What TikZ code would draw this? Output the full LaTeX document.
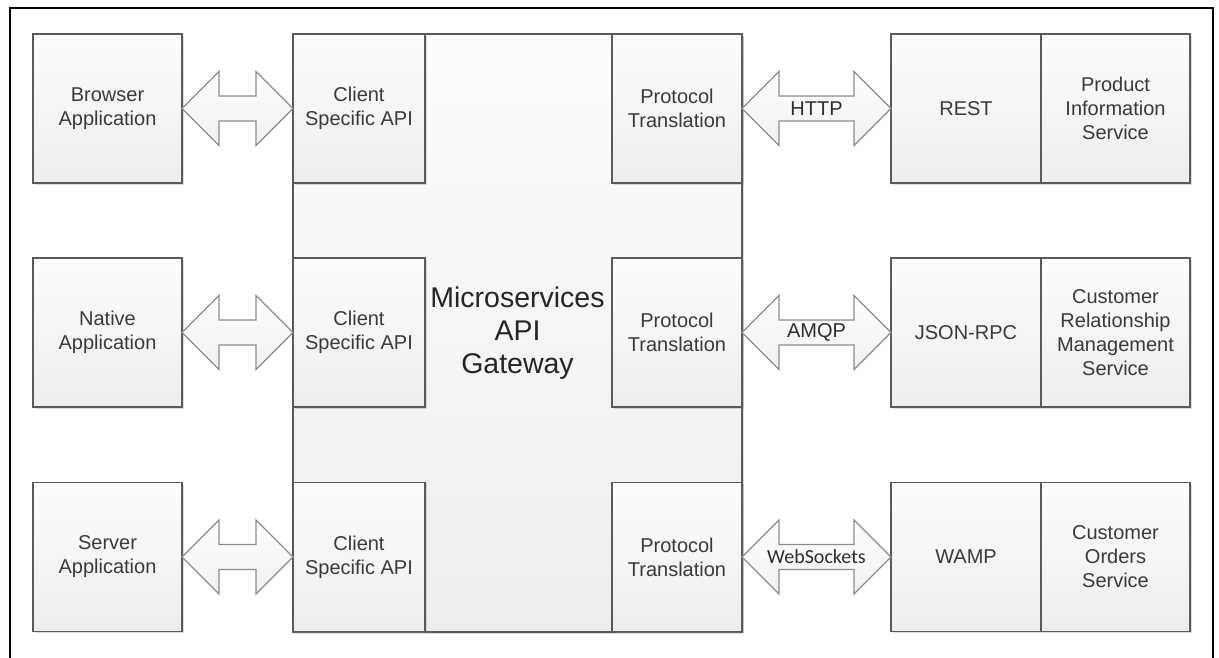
\documentclass[tikz,border=0pt]{standalone}
\usepackage{fontspec}
\setmainfont{Liberation Sans}
\newfontfamily\carlito{Carlito}
\usetikzlibrary{calc,shadows}
\definecolor{txt}{HTML}{3A3A3A}
\definecolor{edgec}{HTML}{5A5A5A}
\definecolor{arredge}{HTML}{8C8C8C}
\tikzset{
  box/.style={draw=edgec, line width=1.3pt, top color=gray!2, bottom color=gray!14,
    inner sep=0pt, outer sep=0pt, align=center, text=txt,
    font=\fontsize{20}{24}\selectfont,
    drop shadow={shadow xshift=1.6pt, shadow yshift=-1.6pt, opacity=0.28, fill=gray}},
  arrowsty/.style={draw=arredge, line width=1.1pt, top color=white, bottom color=gray!12, line join=miter},
  arrlabel/.style={inner sep=0pt, text=txt!80!black, font=\fontsize{20}{24}\selectfont},
  frame/.style={draw=black, line width=2.8pt}
}
\newcommand\dblarrow[4]{%
  \draw[arrowsty] (#1.east) -- ($(#1.east)+(37,-37)$) -- ($(#1.east)+(37,-12.5)$)
    -- ($(#2.west)+(-37,-12.5)$) -- ($(#2.west)+(-37,-37)$) -- (#2.west)
    -- ($(#2.west)+(-37,37)$) -- ($(#2.west)+(-37,12.5)$)
    -- ($(#1.east)+(37,12.5)$) -- ($(#1.east)+(37,37)$) -- cycle;
  \node[arrlabel] (#3) at ($(#1.east)!0.5!(#2.west)$) {#4};
}
\begin{document}
\begin{tikzpicture}[x=1pt,y=-1pt]
\useasboundingbox (0,0) rectangle (1219,657);
\fill[white] (0,0) rectangle (1219,657);
% outer frame (open at the bottom)
\draw[frame] (10,660) -- (10,8) -- (1213,8) -- (1213,660);

% gateway
\node[box, minimum width=449pt, minimum height=598pt,
      font=\fontsize{28.5}{33}\selectfont, text=black!85] (gw) at (517.5,333)
      {Microservices\\API\\Gateway};

% left applications
\node[box, minimum width=149pt, minimum height=149pt] (browser) at (107.5,108.5) {Browser\\Application};
\node[box, minimum width=149pt, minimum height=149pt] (native) at (107.5,332.5) {Native\\Application};
\node[box, minimum width=149pt, minimum height=149pt] (server) at (107.5,557) {Server\\Application};

% client specific APIs
\node[box, minimum width=132pt, minimum height=149pt] (c1) at (359,108.5) {Client\\Specific API};
\node[box, minimum width=132pt, minimum height=149pt] (c2) at (359,332.5) {Client\\Specific API};
\node[box, minimum width=132pt, minimum height=149pt] (c3) at (359,557) {Client\\Specific API};

% protocol translation
\node[box, minimum width=130pt, minimum height=149pt] (p1) at (677,108.5) {Protocol\\Translation};
\node[box, minimum width=130pt, minimum height=149pt] (p2) at (677,332.5) {Protocol\\Translation};
\node[box, minimum width=130pt, minimum height=149pt] (p3) at (677,557) {Protocol\\Translation};

% protocols
\node[box, minimum width=150pt, minimum height=149pt] (rest) at (966,108.5) {REST};
\node[box, minimum width=150pt, minimum height=149pt] (json) at (966,332.5) {JSON-RPC};
\node[box, minimum width=150pt, minimum height=149pt] (wamp) at (966,557) {WAMP};

% services
\node[box, minimum width=149pt, minimum height=149pt] (s1) at (1115.5,108.5) {Product\\Information\\Service};
\node[box, minimum width=149pt, minimum height=149pt] (s2) at (1115.5,332.5) {Customer\\Relationship\\Management\\Service};
\node[box, minimum width=149pt, minimum height=149pt] (s3) at (1115.5,557) {Customer\\Orders\\Service};

% arrows
\dblarrow{browser}{c1}{a1}{}
\dblarrow{native}{c2}{a2}{}
\dblarrow{server}{c3}{a3}{}
\dblarrow{p1}{rest}{a4}{HTTP}
\dblarrow{p2}{json}{a5}{AMQP}
\dblarrow{p3}{wamp}{a6}{\carlito WebSockets}
\end{tikzpicture}
\end{document}
